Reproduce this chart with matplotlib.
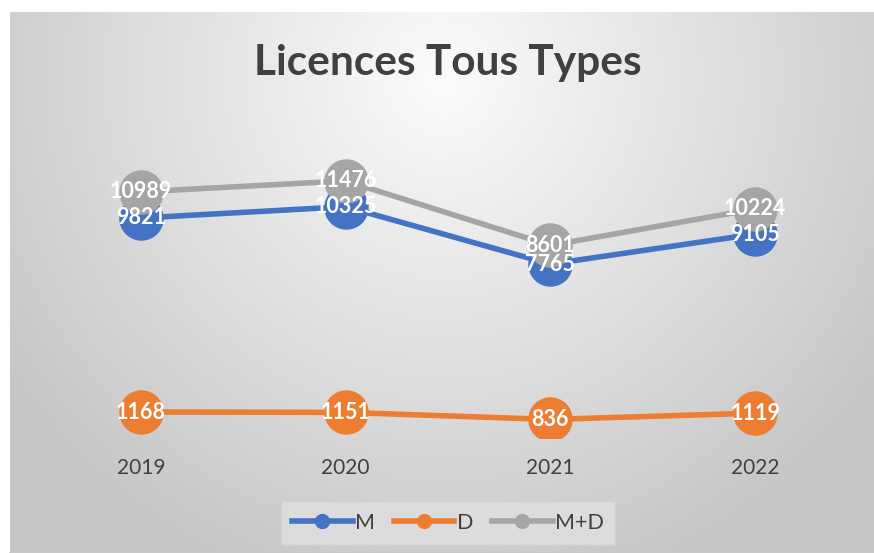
import numpy as np
import matplotlib
matplotlib.use("Agg")
import matplotlib.pyplot as plt
from matplotlib.lines import Line2D

years = ["2019", "2020", "2021", "2022"]
m_vals = [9821, 10325, 7765, 9105]
d_vals = [1168, 1151, 836, 1119]
md_vals = [10989, 11476, 8601, 10224]
series_names = ["M", "D", "M+D"]
colors = ["#4472C4", "#ED7D31", "#A5A5A5"]

W, H = 874, 553
fig = plt.figure(figsize=(W / 100, H / 100), dpi=100)
fig.patch.set_facecolor("white")

# background with radial gradient
bg = fig.add_axes([10 / W, 0, (W - 10) / W, (H - 12) / H])
bg.set_axis_off()
ny, nx = 300, 480
yy, xx = np.mgrid[0:ny, 0:nx]
cx, cy = nx * 0.5, ny * 0.12
r = np.sqrt(((xx - cx) / nx) ** 2 + ((yy - cy) / ny * 0.62) ** 2)
r = np.clip(r / 0.62, 0, 1)
val = 0.985 - 0.21 * r
bg.imshow(np.dstack([val, val, val]), aspect="auto", extent=[0, 1, 1, 0], interpolation="bilinear")
bg.set_xlim(0, 1); bg.set_ylim(1, 0)
bg.plot([0, 1], [0.0, 0.0], color="#c8c8c8", lw=2, transform=bg.transAxes, clip_on=False)

# plot area
left_px, right_px = 38.5, 857.5
bottom_px, top_px = 438.2, 124.3
ax = fig.add_axes([left_px / W, 1 - bottom_px / H, (right_px - left_px) / W, (bottom_px - top_px) / H])
ax.patch.set_alpha(0)
for s in ax.spines.values():
    s.set_visible(False)
ax.set_xlim(-0.5, 3.5)
ax.set_ylim(0, 14000)
ax.set_yticks([])
x = np.arange(len(years))
ax.set_xticks(x)
ax.set_xticklabels(years, fontsize=15, color="#404040", family="Lato")
ax.tick_params(axis="x", length=0, pad=14)

order = [(m_vals, colors[0]), (d_vals, colors[1]), (md_vals, colors[2])]
for vals, c in order:
    ax.plot(x, vals, color=c, lw=4, marker="o", ms=31, mec=c, mfc=c, solid_capstyle="round", zorder=2)
for vals, c in order:
    for xi, v in zip(x, vals):
        ax.text(xi, v, str(v), ha="center", va="center", color="white", fontsize=15.5,
                fontweight="bold", family="Lato", zorder=5)

fig.text(448 / W, 1 - 63 / H, "Licences Tous Types", ha="center", va="center",
         fontsize=30.5, fontweight="bold", color="#404040", family="Lato")

# legend
handles = [Line2D([0], [0], color=c, lw=4, marker="o", ms=10) for c in colors]
leg = fig.legend(handles, series_names, loc="center", bbox_to_anchor=(448 / W, 1 - 523 / H),
                 ncol=3, frameon=True, handlelength=2.8, columnspacing=0.9,
                 handletextpad=0.1, borderpad=0.55, prop={"family": "Lato", "size": 15.5})
leg.get_frame().set_facecolor("#e0e0e0")
leg.get_frame().set_edgecolor("#d0d0d0")
leg.get_frame().set_boxstyle("square", pad=0)
for t in leg.get_texts():
    t.set_color("#404040")

fig.savefig("out.png", dpi=100)
